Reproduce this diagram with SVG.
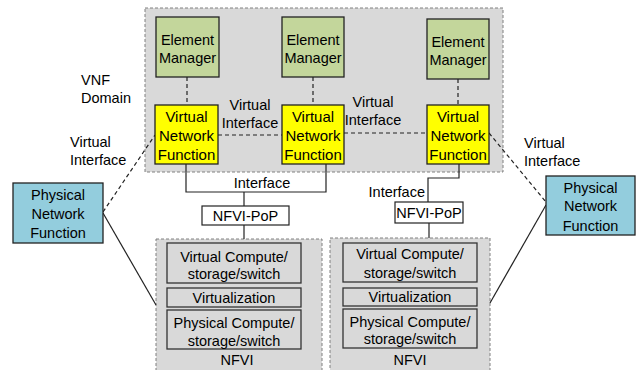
<svg xmlns="http://www.w3.org/2000/svg" width="637" height="370" viewBox="0 0 637 370">
  <style>
    text { font-family: "Liberation Sans", Arial, sans-serif; font-size: 14.5px; fill: #000; }
    .c { text-anchor: middle; }
    .vnf-t { font-size: 15px; }
    .zone { fill: #d9d9d9; stroke: #808080; stroke-width: 1; stroke-dasharray: 3 2; }
    .em { fill: #c3d69b; stroke: #222; stroke-width: 1.3; }
    .vnf { fill: #ffff00; stroke: #222; stroke-width: 1.3; }
    .pnf { fill: #93cddd; stroke: #222; stroke-width: 1.3; }
    .layer { fill: #d9d9d9; stroke: #333; stroke-width: 1.3; }
    .pop { fill: #fff; stroke: #222; stroke-width: 1.2; }
    .dash { fill: none; stroke: #222; stroke-width: 1.2; stroke-dasharray: 4 3; }
    .solid { fill: none; stroke: #222; stroke-width: 1.2; }
  </style>

  <!-- shaded areas -->
  <g id="vnf-domain">
    <rect class="zone" x="145" y="8" width="358" height="164"/>
  </g>
  <g id="nfvi-1-area">
    <rect class="zone" x="156" y="239" width="166" height="140"/>
  </g>
  <g id="nfvi-2-area">
    <rect class="zone" x="330" y="238" width="160" height="140"/>
  </g>

  <!-- connectors -->
  <g id="connectors">
    <line class="dash" x1="187" y1="77" x2="187" y2="105"/>
    <line class="dash" x1="313" y1="77" x2="313" y2="105"/>
    <line class="dash" x1="458" y1="79" x2="458" y2="105"/>
    <line class="dash" x1="218" y1="135" x2="282" y2="135"/>
    <line class="dash" x1="344" y1="133" x2="427" y2="133"/>
    <line class="dash" x1="103" y1="212" x2="155" y2="135"/>
    <line class="dash" x1="489" y1="133" x2="546" y2="202"/>
    <line class="solid" x1="103" y1="213" x2="156" y2="305"/>
    <line class="solid" x1="546" y1="205" x2="490" y2="303"/>
    <polyline class="solid" points="186,164 186,192 326,192 326,164"/>
    <line class="solid" x1="244" y1="192" x2="244" y2="206"/>
    <line class="solid" x1="244" y1="225" x2="244" y2="239"/>
    <polyline class="solid" points="459,164 459,178 428,178 428,202"/>
    <line class="solid" x1="429" y1="223" x2="429" y2="238"/>
  </g>

  <!-- element managers -->
  <g id="em-1">
    <rect class="em" x="156" y="17" width="63" height="60"/>
    <text class="c" x="187.5" y="45">Element</text>
    <text class="c" x="187.5" y="63">Manager</text>
  </g>
  <g id="em-2">
    <rect class="em" x="282" y="17" width="62" height="60"/>
    <text class="c" x="313" y="45">Element</text>
    <text class="c" x="313" y="63">Manager</text>
  </g>
  <g id="em-3">
    <rect class="em" x="427" y="19" width="62" height="60"/>
    <text class="c" x="458" y="47">Element</text>
    <text class="c" x="458" y="65">Manager</text>
  </g>

  <!-- virtual network functions -->
  <g id="vnf-1">
    <rect class="vnf" x="155" y="105" width="63" height="59"/>
    <text class="c vnf-t" x="186.5" y="122">Virtual</text>
    <text class="c vnf-t" x="186.5" y="141">Network</text>
    <text class="c vnf-t" x="186.5" y="160">Function</text>
  </g>
  <g id="vnf-2">
    <rect class="vnf" x="282" y="105" width="62" height="59"/>
    <text class="c vnf-t" x="313" y="122">Virtual</text>
    <text class="c vnf-t" x="313" y="141">Network</text>
    <text class="c vnf-t" x="313" y="160">Function</text>
  </g>
  <g id="vnf-3">
    <rect class="vnf" x="427" y="105" width="62" height="59"/>
    <text class="c vnf-t" x="458" y="122">Virtual</text>
    <text class="c vnf-t" x="458" y="141">Network</text>
    <text class="c vnf-t" x="458" y="160">Function</text>
  </g>

  <!-- physical network functions -->
  <g id="pnf-left">
    <rect class="pnf" x="13" y="183" width="90" height="60"/>
    <text class="c" x="58" y="200">Physical</text>
    <text class="c" x="58" y="219">Network</text>
    <text class="c" x="58" y="238">Function</text>
  </g>
  <g id="pnf-right">
    <rect class="pnf" x="546" y="176" width="89" height="59"/>
    <text class="c" x="590.5" y="193">Physical</text>
    <text class="c" x="590.5" y="211">Network</text>
    <text class="c" x="590.5" y="231">Function</text>
  </g>

  <!-- points of presence -->
  <g id="pop-1">
    <rect class="pop" x="202" y="206" width="87" height="19"/>
    <text class="c" x="245.5" y="220.5">NFVI-PoP</text>
  </g>
  <g id="pop-2">
    <rect class="pop" x="395" y="202" width="68" height="21"/>
    <text class="c" x="429" y="217.5">NFVI-PoP</text>
  </g>

  <!-- infrastructure stacks -->
  <g id="nfvi-1">
    <rect class="layer" x="167" y="243" width="134" height="40"/>
    <text class="c" x="234" y="262">Virtual Compute/</text>
    <text class="c" x="234" y="279">storage/switch</text>
    <rect class="layer" x="167" y="288" width="134" height="19"/>
    <text class="c" x="234" y="303">Virtualization</text>
    <rect class="layer" x="167" y="310" width="134" height="39"/>
    <text class="c" x="234" y="328">Physical Compute/</text>
    <text class="c" x="234" y="346">storage/switch</text>
    <text class="c" x="237" y="365">NFVI</text>
  </g>
  <g id="nfvi-2">
    <rect class="layer" x="343" y="243" width="134" height="39"/>
    <text class="c" x="410" y="259">Virtual Compute/</text>
    <text class="c" x="410" y="278">storage/switch</text>
    <rect class="layer" x="343" y="288" width="134" height="18"/>
    <text class="c" x="410" y="302">Virtualization</text>
    <rect class="layer" x="343" y="309" width="134" height="39"/>
    <text class="c" x="410" y="327">Physical Compute/</text>
    <text class="c" x="410" y="344">storage/switch</text>
    <text class="c" x="410" y="365">NFVI</text>
  </g>

  <!-- free labels -->
  <g id="labels">
    <text x="81" y="85">VNF</text>
    <text x="81" y="103">Domain</text>
    <text x="70" y="147">Virtual</text>
    <text x="70" y="165">Interface</text>
    <text x="524" y="148">Virtual</text>
    <text x="524" y="166">Interface</text>
    <text class="c" x="250" y="110">Virtual</text>
    <text class="c" x="250" y="128">Interface</text>
    <text class="c" x="373" y="107">Virtual</text>
    <text class="c" x="373" y="125">Interface</text>
    <text class="c" x="262" y="188">Interface</text>
    <text x="425" y="197" text-anchor="end">Interface</text>
  </g>
</svg>
